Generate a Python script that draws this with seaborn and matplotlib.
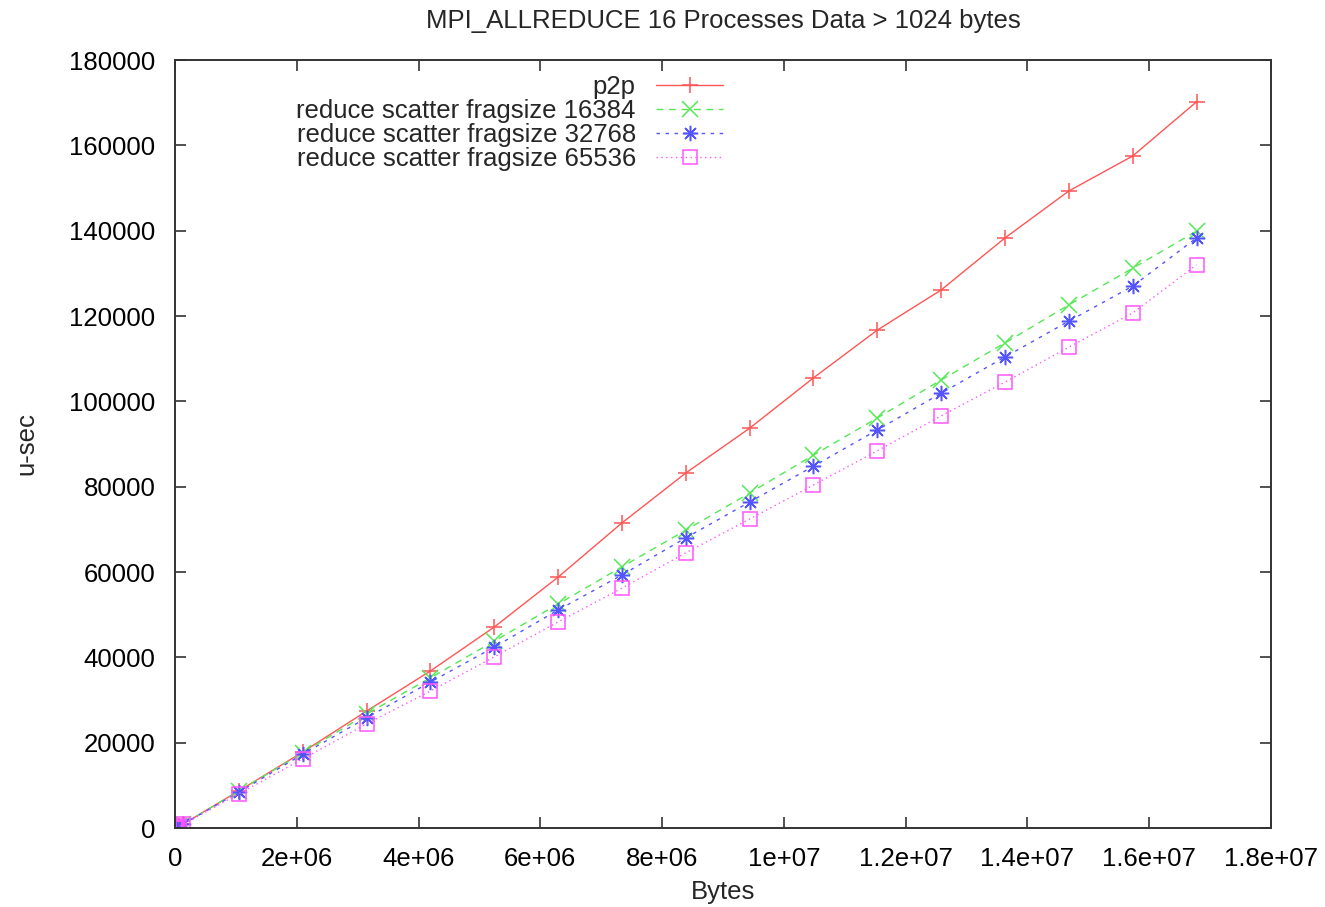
import matplotlib
matplotlib.use("Agg")
import matplotlib.pyplot as plt
import seaborn as sns
import pandas as pd
from matplotlib.ticker import FixedLocator, FixedFormatter

# ---- data ----
bytes_x = [2048, 4096, 8192, 16384, 32768, 65536, 131072,
           1048576, 2097152, 3145728, 4194304, 5242880, 6291456, 7340032, 8388608,
           9437184, 10485760, 11534336, 12582912, 13631488, 14680064, 15728640, 16777216]

p2p = [30, 45, 70, 110, 200, 400, 900,
       8700, 17800, 27400, 36800, 47100, 58800, 71500, 83200,
       93700, 105500, 116700, 126100, 138300, 149300, 157500, 170200]
rs_16384 = [30, 45, 70, 110, 200, 400, 900,
            8700, 17600, 26700, 35200, 43800, 52500, 61200, 69800,
            78500, 87400, 96100, 105000, 113700, 122600, 131200, 139900]
rs_32768 = [30, 45, 70, 110, 200, 400, 880,
            8400, 17300, 25800, 34200, 42400, 51100, 59300, 68000,
            76400, 84800, 93300, 101900, 110400, 118800, 127000, 138300]
rs_65536 = [30, 45, 70, 110, 200, 400, 850,
            8000, 16200, 24400, 32100, 40100, 48300, 56200, 64500,
            72400, 80400, 88400, 96600, 104500, 112700, 120700, 132000]

series_names = ["p2p", "reduce scatter fragsize 16384",
                "reduce scatter fragsize 32768", "reduce scatter fragsize 65536"]
series_vals = [p2p, rs_16384, rs_32768, rs_65536]

x_ticks = [0, 2e6, 4e6, 6e6, 8e6, 1e7, 1.2e7, 1.4e7, 1.6e7, 1.8e7]
x_tick_labels = ["0", "2e+06", "4e+06", "6e+06", "8e+06", "1e+07",
                 "1.2e+07", "1.4e+07", "1.6e+07", "1.8e+07"]
y_ticks = list(range(0, 180001, 20000))
y_tick_labels = [str(v) for v in y_ticks]

title = "MPI_ALLREDUCE 16 Processes Data > 1024 bytes"

# ---- style ----
sns.set_style("ticks")
plt.rcParams["font.family"] = ["Liberation Sans", "DejaVu Sans"]

FS = 18.5
fig = plt.figure(figsize=(13.25, 9.07), dpi=100)
ax = fig.add_axes([175 / 1325, 1 - 828 / 907, (1271 - 175) / 1325, (828 - 60) / 907])

colors = ["#ff5555", "#55e855", "#5555ff", "#ff55ff"]
markers = ["+", "x", (8, 2, 0), "s"]
dashes = ["-", (0, (5, 4)), (0, (2.5, 4)), (0, (1, 2.5))]
msizes = [11, 11, 11, 10]

for name, vals, c, m, ls, ms in zip(series_names, series_vals, colors, markers, dashes, msizes):
    df = pd.DataFrame({"Bytes": bytes_x, "usec": vals})
    sns.lineplot(data=df, x="Bytes", y="usec", ax=ax, color=c, marker=m,
                 linestyle=ls, linewidth=1.0, markersize=ms,
                 markeredgecolor=c, markerfacecolor="none", markeredgewidth=1.1,
                 errorbar=None, label=name)

ax.set_xlim(0, 1.8e7)
ax.set_ylim(0, 180000)
ax.xaxis.set_major_locator(FixedLocator(x_ticks))
ax.xaxis.set_major_formatter(FixedFormatter(x_tick_labels))
ax.yaxis.set_major_locator(FixedLocator(y_ticks))
ax.yaxis.set_major_formatter(FixedFormatter(y_tick_labels))
ax.tick_params(direction="in", length=8, width=1.2, top=True, right=True,
               labelsize=FS, color="#333333", labelcolor="black", pad=14)
for sp in ax.spines.values():
    sp.set_visible(True)
    sp.set_linewidth(1.4)
    sp.set_color("#333333")

ax.set_xlabel("Bytes", fontsize=FS, labelpad=6)
ax.set_ylabel("u-sec", fontsize=FS, labelpad=22)
ax.set_title(title, fontsize=FS, pad=23)

leg = ax.legend(loc="upper right", bbox_to_anchor=((736 - 175) / 1096, 1 - 2 / 768),
                frameon=False, markerfirst=False, fontsize=FS, handlelength=2.6,
                borderpad=0, labelspacing=0.0, handletextpad=0.8)

fig.savefig("out.png", dpi=100)
